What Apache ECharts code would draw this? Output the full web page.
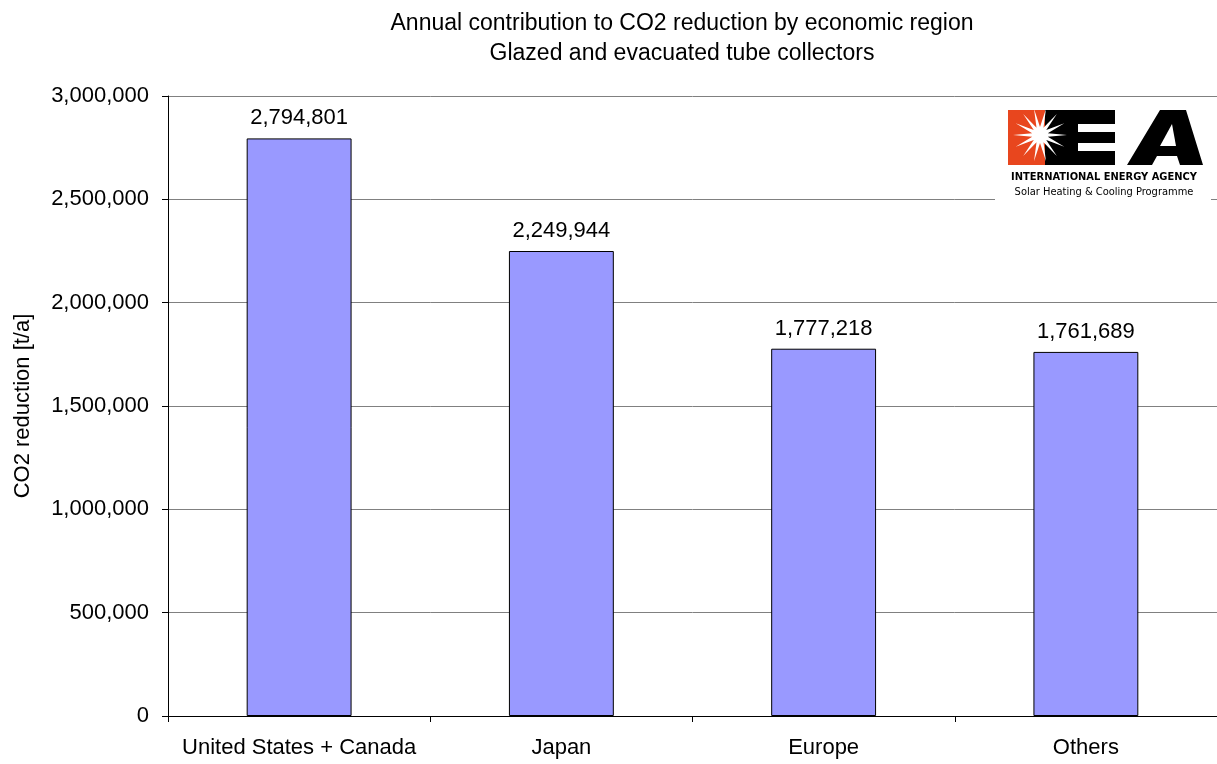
<!DOCTYPE html>
<html>
<head>
<meta charset="utf-8">
<script src="https://cdn.jsdelivr.net/npm/echarts@6/dist/echarts.min.js"></script>
<style>html,body{margin:0;padding:0;background:#fff}#c{width:1217px;height:764px}</style>
</head>
<body>
<div id="c"></div>
<script>
const categories = ['United States + Canada', 'Japan', 'Europe', 'Others'];
const co2Reduction = [2794801, 2249944, 1777218, 1761689];
const titleLines = ['Annual contribution to CO2 reduction by economic region', 'Glazed and evacuated tube collectors'];
const yAxisName = 'CO2 reduction [t/a]';
const logoLines = ['INTERNATIONAL ENERGY AGENCY', 'Solar Heating & Cooling Programme'];

const FONT = '"Liberation Sans", Arial, sans-serif';
const fmt = v => v.toLocaleString('en-US');

// sun rays polygon for logo
function starPoints(cx, cy, rOut, rIn, n) {
  const pts = [];
  for (let i = 0; i < n * 2; i++) {
    const r = i % 2 === 0 ? rOut : rIn;
    const a = Math.PI * i / n;
    pts.push([cx + r * Math.cos(a), cy + r * Math.sin(a)]);
  }
  return pts;
}

const chart = echarts.init(document.getElementById('c'));
chart.setOption({
  animation: false,
  backgroundColor: '#fff',
  textStyle: { fontFamily: FONT },
  title: {
    text: titleLines.join('\n'),
    left: 677, top: 4, textAlign: 'center',
    textStyle: { fontFamily: FONT, fontSize: 23, fontWeight: 'normal', color: '#000', lineHeight: 30 }
  },
  grid: { left: 168, right: -5, top: 96, bottom: 48 },
  xAxis: {
    type: 'category',
    data: categories,
    axisLine: { show: true, lineStyle: { color: '#000', width: 1 } },
    axisTick: { show: true, alignWithLabel: false, length: 6, interval: 0, lineStyle: { color: '#000', width: 1 } },
    axisLabel: { color: '#000', fontSize: 22, margin: 21, interval: 0, fontFamily: FONT }
  },
  yAxis: {
    type: 'value',
    min: 0, max: 3000000, interval: 500000,
    name: yAxisName,
    nameLocation: 'middle',
    nameGap: 134,
    nameTextStyle: { color: '#000', fontSize: 22, fontFamily: FONT },
    axisLine: { show: true, lineStyle: { color: '#000', width: 1 } },
    axisTick: { show: true, length: 6, lineStyle: { color: '#000' } },
    axisLabel: { color: '#000', fontSize: 22, margin: 19, fontFamily: FONT, formatter: v => fmt(v) },
    splitLine: { lineStyle: { color: '#808080', width: 1 } }
  },
  series: [{
    type: 'bar',
    data: co2Reduction,
    barWidth: '40%',
    itemStyle: { color: '#9999FF', borderColor: '#000', borderWidth: 1 },
    label: {
      show: true, position: 'top', distance: 9,
      color: '#000', fontSize: 22, fontFamily: FONT,
      formatter: p => fmt(p.value)
    }
  }],
  graphic: [
    { type: 'rect', z: 100, shape: { x: 995, y: 102, width: 216, height: 104 }, style: { fill: '#fff' } },
    { type: 'rect', z: 101, shape: { x: 1008, y: 110, width: 37, height: 55 }, style: { fill: '#E8461E' } },
    { type: 'rect', z: 101, shape: { x: 1045, y: 110, width: 70, height: 55 }, style: { fill: '#000' } },
    { type: 'rect', z: 102, shape: { x: 1078, y: 124, width: 37, height: 8 }, style: { fill: '#fff' } },
    { type: 'rect', z: 102, shape: { x: 1078, y: 143, width: 37, height: 8 }, style: { fill: '#fff' } },
    { type: 'polygon', z: 103, shape: { points: starPoints(1040, 135, 27, 8, 14) }, style: { fill: '#fff' } },
    { type: 'polygon', z: 101, shape: { points: [[1127, 165], [1160, 110], [1186, 110], [1203, 165], [1180, 165], [1177, 156], [1157, 156], [1152, 165]] }, style: { fill: '#000' } },
    { type: 'polygon', z: 102, shape: { points: [[1160, 146], [1172, 124], [1176, 146]] }, style: { fill: '#fff' } },
    { type: 'text', z: 104, x: 1104, y: 172, style: { text: logoLines[0], fill: '#000', font: 'bold 11px "Liberation Sans Narrow", "DejaVu Sans Condensed", sans-serif', textAlign: 'center' } },
    { type: 'text', z: 104, x: 1104, y: 187, style: { text: logoLines[1], fill: '#000', font: '11px "Liberation Sans Narrow", "DejaVu Sans Condensed", sans-serif', textAlign: 'center' } }
  ]
});
</script>
</body>
</html>
